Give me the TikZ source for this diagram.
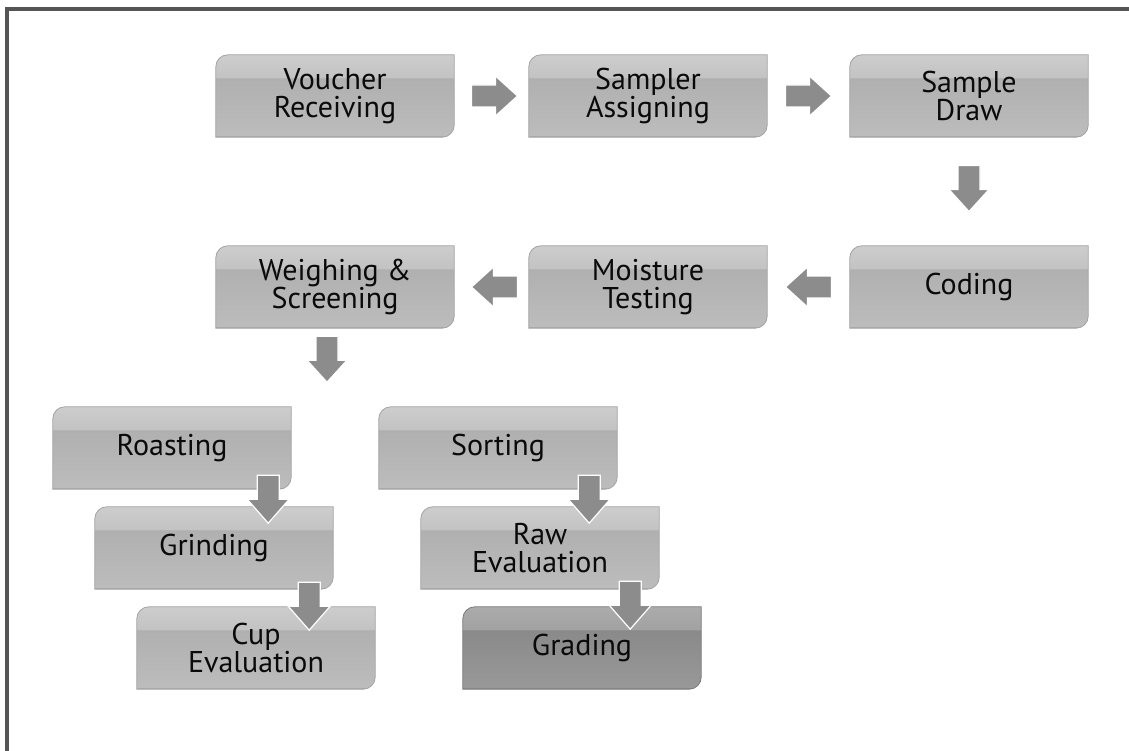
\documentclass[tikz,border=0pt]{standalone}
\usepackage{fontspec}
\setmainfont{PT Sans}
\usetikzlibrary{calc,backgrounds}
\definecolor{frameC}{HTML}{555555}
\definecolor{txtC}{HTML}{0A0A0A}
\definecolor{arrowC}{HTML}{8C8C8C}
\definecolor{edgeC}{HTML}{A2A2A2}
\definecolor{gedgeC}{HTML}{7A7A7A}
\definecolor{bA}{HTML}{8E8E8E}
\definecolor{bB}{HTML}{BCBCBC}
\definecolor{bC}{HTML}{B0B0B0}
\definecolor{bD}{HTML}{C3C3C3}
\definecolor{bE}{HTML}{CDCDCD}
\definecolor{gA}{HTML}{6E6E6E}
\definecolor{gB}{HTML}{989898}
\definecolor{gC}{HTML}{8A8A8A}
\definecolor{gD}{HTML}{A2A2A2}
\definecolor{gE}{HTML}{ABABAB}
\pgfdeclareverticalshading{boxshade}{100bp}{color(0bp)=(bA); color(25bp)=(bA); color(26.2bp)=(bB); color(60.8bp)=(bC); color(61.3bp)=(bD); color(75bp)=(bE); color(100bp)=(bE)}
\pgfdeclareverticalshading{gradeshade}{100bp}{color(0bp)=(gA); color(25bp)=(gA); color(26.2bp)=(gB); color(60.8bp)=(gC); color(61.3bp)=(gD); color(75bp)=(gE); color(100bp)=(gE)}
\newcommand\procshape[2]{%
  \path[#2] (#1.south west) -- ($(#1.north west)+(0,12)$) arc[start angle=180,end angle=90,radius=12pt]
    -- (#1.north east) -- ($(#1.south east)+(0,-12)$) arc[start angle=0,end angle=-90,radius=12pt] -- cycle;}
\begin{document}
\begin{tikzpicture}[x=1pt,y=-1pt,
  procbox/.style={minimum width=238pt,minimum height=82pt,inner sep=0pt,align=center,text=txtC,
    font=\fontsize{30}{28}\selectfont},
  boxfill/.style={shade,shading=boxshade,draw=edgeC,line width=0.8pt},
  gradefill/.style={shade,shading=gradeshade,draw=gedgeC,line width=0.8pt},
  blockarrow/.style={fill=arrowC,draw=white,line width=1.2pt,line join=miter}]
\useasboundingbox (0,0) rectangle (1129,751);
% frame (top and left edges)
\fill[frameC] (5,7) rectangle (1129,11);
\fill[frameC] (5,7) rectangle (9,751);
% boxes
\node[procbox] (voucher) at (335,96) {Voucher\\Receiving};
\node[procbox] (sampler) at (648,96) {Sampler\\Assigning};
\node[procbox] (sdraw) at (969,96) {Sample\\Draw};
\node[procbox] (weigh) at (335,287) {Weighing \&\\Screening};
\node[procbox] (moist) at (648,287) {Moisture\\Testing};
\node[procbox] (coding) at (969,287) {Coding};
\node[procbox] (roast) at (172,448) {Roasting};
\node[procbox] (grind) at (214,548) {Grinding};
\node[procbox] (cup) at (256,648) {Cup\\Evaluation};
\node[procbox] (sort) at (498,448) {Sorting};
\node[procbox] (raw) at (540,548) {Raw\\Evaluation};
\node[procbox] (grade) at (582,648) {Grading};
\begin{scope}[on background layer]
\foreach \n in {voucher,sampler,sdraw,weigh,moist,coding,roast,grind,cup,sort,raw}{\procshape{\n}{boxfill}}
\procshape{grade}{gradefill}
\end{scope}
% arrow positions
\coordinate (a1) at ($(voucher.east)!0.5!(sampler.west)+(3,0)$);
\coordinate (a2) at ($(sampler.east)!0.5!(sdraw.west)$);
\coordinate (a3) at ($(sdraw.south)!0.5!(coding.north)+(0,-3)$);
\coordinate (a4) at ($(coding.west)!0.5!(moist.east)$);
\coordinate (a5) at ($(moist.west)!0.5!(weigh.east)+(3,0)$);
\coordinate (a6) at ($(weigh.south)+(-8,31)$);
\coordinate (a7) at ($(roast.south east)+(-23,10)$);
\coordinate (a8) at ($(grind.south east)+(-24,17)$);
\coordinate (a9) at ($(sort.south east)+(-28,10)$);
\coordinate (a10) at ($(raw.south east)+(-29,16)$);
% right arrows
\foreach \c in {a1,a2}{
  \path[blockarrow] (\c) ++(-23,-11) -- ++(24,0) -- ++(0,-9) -- ++(22,20) -- ++(-22,20) -- ++(0,-9) -- ++(-24,0) -- cycle;}
% left arrows
\foreach \c in {a4,a5}{
  \path[blockarrow] (\c) ++(23,-11) -- ++(-24,0) -- ++(0,-9) -- ++(-22,20) -- ++(22,20) -- ++(0,-9) -- ++(24,0) -- cycle;}
% down arrows (upper)
\foreach \c in {a3,a6}{
  \path[blockarrow] (\c) ++(-11,-23) -- ++(22,0) -- ++(0,24) -- ++(9,0) -- ++(-20,22) -- ++(-20,-22) -- ++(9,0) -- cycle;}
% down arrows (lower columns)
\foreach \c in {a7,a8,a9,a10}{
  \path[blockarrow] (\c) ++(-11,-24) -- ++(22,0) -- ++(0,24) -- ++(10,0) -- ++(-21,24) -- ++(-21,-24) -- ++(10,0) -- cycle;}
\end{tikzpicture}
\end{document}
